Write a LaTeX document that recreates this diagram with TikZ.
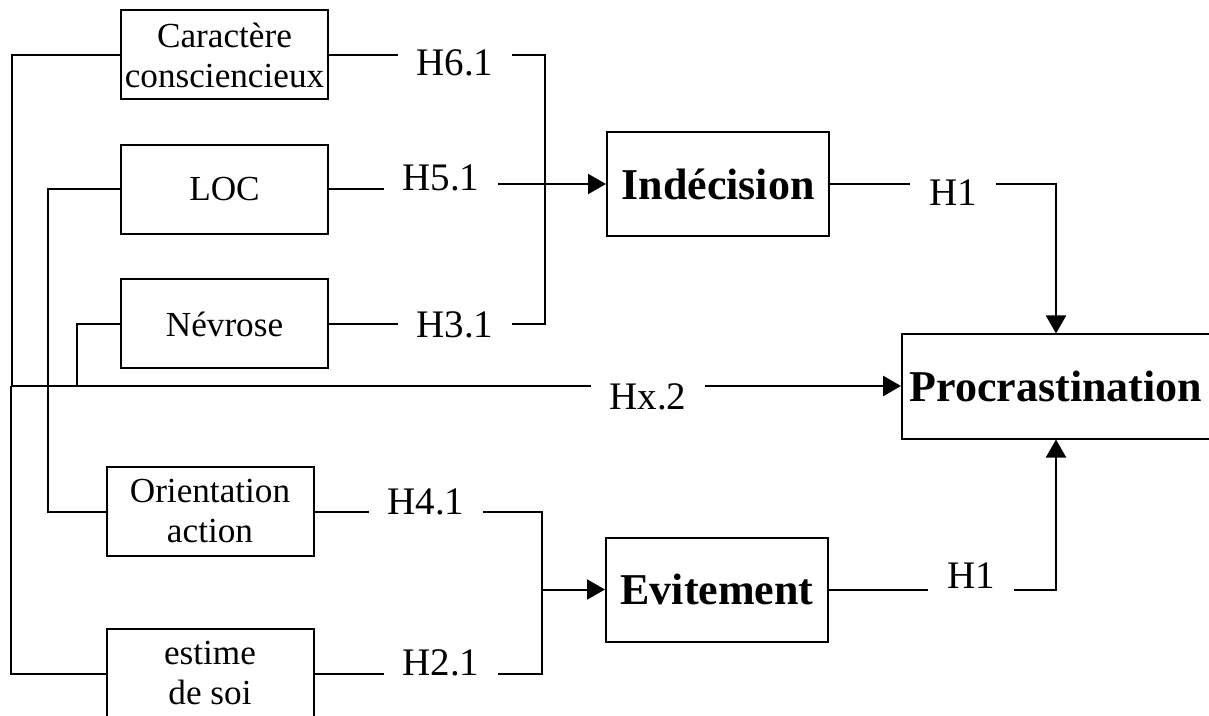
\documentclass[tikz,border=0pt]{standalone}
\usepackage{fontspec}
\setmainfont{Liberation Serif}
\usepackage{tikz}
\usetikzlibrary{positioning,arrows.meta}

\begin{document}
\begin{tikzpicture}[
    x=0.5pt, y=-0.5pt,
    line width=1pt,
    node distance=21.75pt,
    factor/.style={rectangle, draw, align=center, minimum width=103.5pt, minimum height=44.5pt, inner sep=0pt, font=\fontsize{17.6}{20}\selectfont},
    outcome/.style={rectangle, draw, align=center, minimum width=111pt, minimum height=52pt, inner sep=0pt, font=\fontsize{22}{26}\selectfont\bfseries},
    hyp/.style={inner xsep=9pt, inner ysep=0pt, font=\fontsize{19.5}{23}\selectfont},
    bus/.style={line width=1.4pt},
    arr/.style={-{Triangle[length=9pt, width=10pt]}}
]
\useasboundingbox (0,0) rectangle (1209,716);

% Nodes
\node[factor] (caract) at (224.5,55) {Caractère\\consciencieux};
\node[factor] (loc) [below=of caract] {LOC};
\node[factor] (nevrose) [below=of loc] {Névrose};
\node[factor] (orient) at (210,511.5) {Orientation\\action};
\node[factor] (estime) at (210,673.5) {estime\\de soi};

\node[outcome] (indec) at (718,184) {Indécision};
\node[outcome] (evit) at (717,589.5) {Evitement};
\node[outcome, minimum width=154pt] (procr) at (1056,386.5) {Procrastination};

% Labels
\node[hyp] (h61) at (455,63) {H6.1};
\node[hyp] (h51) at (441,178) {H5.1};
\node[hyp] (h31) at (455,325) {H3.1};
\node[hyp] (h41) at (426,502) {H4.1};
\node[hyp] (h21) at (441,663) {H2.1};
\node[hyp] (hx2) at (648,397) {Hx.2};
\node[hyp] (h1a) at (953,193) {H1};
\node[hyp] (h1b) at (971,576) {H1};

\coordinate (busL) at (11,386);
\coordinate (vCar) at (12,386);
\coordinate (vNev) at (77,386);
\coordinate (vLoc) at (48,0);
\coordinate (brI) at (545,0);
\coordinate (brE) at (542,0);

% Left side to the direct path
\draw (caract.west) -| (vCar);
\draw (nevrose.west) -| (vNev);
\draw (estime.west) -| (busL);
\draw (loc.west) -| (vLoc |- orient.west) -- (orient.west);
\draw[bus] (busL) -- (busL -| hx2.west);
\draw[bus, arr] (busL -| hx2.east) -- (busL -| procr.west);

% Indecision branch
\draw (caract.east) -- (caract.east -| h61.west);
\draw (caract.east -| h61.east) -| (brI |- nevrose.east) -- (nevrose.east -| h31.east);
\draw (nevrose.east) -- (nevrose.east -| h31.west);
\draw (loc.east) -- (loc.east -| h51.west);
\draw[arr] (indec.west -| h51.east) -- (indec.west);
\draw (indec.east) -- (indec.east -| h1a.west);
\draw[arr] (indec.east -| h1a.east) -| (procr.north);

% Evitement branch
\draw (orient.east) -- (orient.east -| h41.west);
\draw (orient.east -| h41.east) -| (brE |- estime.east) -- (estime.east -| h21.east);
\draw (estime.east) -- (estime.east -| h21.west);
\draw[arr] (brE |- evit.west) -- (evit.west);
\draw (evit.east) -- (evit.east -| h1b.west);
\draw[arr] (evit.east -| h1b.east) -| (procr.south);

\end{tikzpicture}
\end{document}
